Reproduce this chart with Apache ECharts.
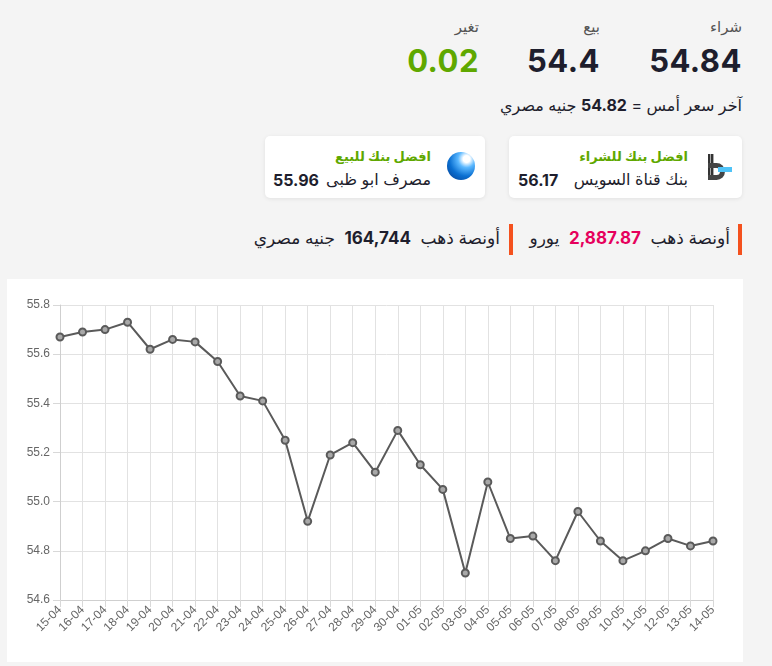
<!DOCTYPE html>
<html lang="ar" dir="rtl">
<head>
<meta charset="utf-8">
<script src="https://cdn.jsdelivr.net/npm/echarts@6/dist/echarts.min.js"></script>
<style>
  html, body { margin:0; padding:0; background:#f4f4f4; width:772px; height:666px; overflow:hidden; font-family: "Inter", "DejaVu Sans", sans-serif; color:#1e1e2d; }
  .abs { position:absolute; }
  .lbl { font-size:15px; color:#555; text-align:right; }
  .big { font-size:31px; font-weight:700; color:#1e1e2d; letter-spacing:0.5px; }
  .card { position:absolute; background:#fff; border-radius:5px; box-shadow:0 1px 4px rgba(0,0,0,0.08); }
  .ctitle { position:absolute; font-size:13px; color:#5fa800; font-weight:600; white-space:nowrap; }
  .cname { position:absolute; font-size:16px; color:#1e1e2d; white-space:nowrap; }
  .cval { position:absolute; font-size:16px; font-weight:700; color:#1e1e2d; direction:ltr; }
  .bar { position:absolute; width:4px; background:#f4511e; }
  .gold { position:absolute; font-size:17px; white-space:nowrap; color:#1e1e2d; }
  #chart { position:absolute; left:7px; top:279px; width:736px; height:383px; background:#fff; }
</style>
</head>
<body>
<!-- header -->
<div class="abs lbl" style="right:30px; top:17px;">شراء</div>
<div class="abs big" style="right:30px; top:42px; direction:ltr;" id="buyVal"></div>
<div class="abs lbl" style="right:172px; top:17px;">بيع</div>
<div class="abs big" style="right:172px; top:42px; direction:ltr;" id="sellVal"></div>
<div class="abs lbl" style="right:293px; top:17px;">تغير</div>
<div class="abs big" style="right:293px; top:42px; direction:ltr; color:#5fa800;" id="chgVal"></div>
<div class="abs" style="right:30px; top:95px; font-size:16px; white-space:nowrap;">آخر سعر أمس = <b id="yVal"></b> جنيه مصري</div>

<!-- cards -->
<div class="card" style="left:509px; top:136px; width:233px; height:62px;">
  <div style="position:absolute; right:12px; top:18px; width:22px; height:26px;">
    <div style="position:absolute; left:0; top:0; width:6px; height:26px; background:repeating-linear-gradient(90deg,#333 0 2px,#aaa 2px 3px);"></div>
    <div style="position:absolute; left:0; top:9px; width:17px; height:17px; border-radius:0 9px 9px 0; border:5px solid #444; border-left:none; box-sizing:border-box;"></div>
    <div style="position:absolute; left:10px; top:13px; width:14px; height:5px; background:#4fc3f7;"></div>
  </div>
  <div class="ctitle" style="right:54px; top:12px;">افضل بنك للشراء</div>
  <div class="cname" style="right:54px; top:33px;">بنك قناة السويس</div>
  <div class="cval" style="left:9px; top:34px;" id="bank1Val"></div>
</div>
<div class="card" style="left:265px; top:136px; width:220px; height:62px;">
  <div style="position:absolute; right:10px; top:16px; width:28px; height:28px; border-radius:50%; background:radial-gradient(circle at 70% 25%, #fff 0 12%, #5bb8ff 30%, #0a6fd1 60%, #063a8a 100%);"></div>
  <div class="ctitle" style="right:54px; top:12px;">افضل بنك للبيع</div>
  <div class="cname" style="right:54px; top:33px;">مصرف ابو ظبى</div>
  <div class="cval" style="left:8px; top:34px;" id="bank2Val"></div>
</div>

<!-- gold row -->
<div class="bar" style="left:738px; top:224px; height:31px;"></div>
<div class="gold" style="right:42px; top:228px;">أونصة ذهب &nbsp;<b style="color:#e6005c;" id="goldEur"></b>&nbsp; يورو</div>
<div class="bar" style="left:509px; top:224px; height:31px;"></div>
<div class="gold" style="right:272px; top:228px;">أونصة ذهب &nbsp;<b id="goldEgp"></b>&nbsp; جنيه مصري</div>

<div id="chart" dir="ltr"></div>

<script>
// ---- data ----
const buyPrice = "54.84";
const sellPrice = "54.4";
const change = "0.02";
const yesterdayPrice = "54.82";
const bestBuyBank = "56.17";
const bestSellBank = "55.96";
const goldOunceEur = "2,887.87";
const goldOunceEgp = "164,744";

const dates = ["15-04","16-04","17-04","18-04","19-04","20-04","21-04","22-04","23-04","24-04",
               "25-04","26-04","27-04","28-04","29-04","30-04","01-05","02-05","03-05","04-05",
               "05-05","06-05","07-05","08-05","09-05","10-05","11-05","12-05","13-05","14-05"];
const prices = [55.67,55.69,55.70,55.73,55.62,55.66,55.65,55.57,55.43,55.41,
                55.25,54.92,55.19,55.24,55.12,55.29,55.15,55.05,54.71,55.08,
                54.85,54.86,54.76,54.96,54.84,54.76,54.80,54.85,54.82,54.84];
const yMin = 54.6, yMax = 55.8, yStep = 0.2;

document.getElementById('buyVal').textContent = buyPrice;
document.getElementById('sellVal').textContent = sellPrice;
document.getElementById('chgVal').textContent = change;
document.getElementById('yVal').textContent = yesterdayPrice;
document.getElementById('bank1Val').textContent = bestBuyBank;
document.getElementById('bank2Val').textContent = bestSellBank;
document.getElementById('goldEur').textContent = goldOunceEur;
document.getElementById('goldEgp').textContent = goldOunceEgp;

const chart = echarts.init(document.getElementById('chart'), null, {renderer:'canvas'});
chart.setOption({
  animation:false,
  grid:{left:53, right:30, top:26, bottom:62, containLabel:false},
  xAxis:{
    type:'category', data:dates, boundaryGap:false,
    axisLine:{lineStyle:{color:'#cfcfcf'}},
    axisTick:{show:true, length:7, alignWithLabel:true, lineStyle:{color:'#d8d8d8'}},
    axisLabel:{rotate:45, color:'#666', fontSize:12, fontFamily:'Liberation Sans, Arial', margin:8, interval:0},
    splitLine:{show:true, lineStyle:{color:'#e2e2e2'}}
  },
  yAxis:{
    type:'value', min:yMin, max:yMax, interval:yStep,
    axisLine:{show:true, lineStyle:{color:'#cfcfcf'}},
    axisTick:{show:true, length:7, lineStyle:{color:'#d8d8d8'}},
    axisLabel:{color:'#666', fontSize:12, fontFamily:'Liberation Sans, Arial', margin:10, formatter:v=>v.toFixed(1)},
    splitLine:{show:true, lineStyle:{color:'#e2e2e2'}}
  },
  series:[{
    type:'line', data:prices,
    symbol:'circle', symbolSize:7,
    lineStyle:{color:'#5a5a5a', width:2},
    itemStyle:{color:'#a8a8a8', borderColor:'#5a5a5a', borderWidth:2}
  }]
});
</script>
</body>
</html>
